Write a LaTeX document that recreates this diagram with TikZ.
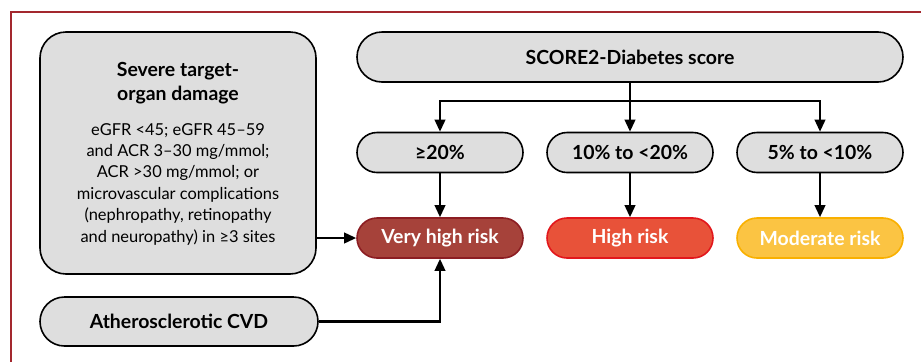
\documentclass[tikz,border=0pt]{standalone}
\usepackage{fontspec}
\setmainfont{Lato}
\usetikzlibrary{arrows.meta}
\definecolor{framecol}{HTML}{A3282E}
\definecolor{boxgray}{HTML}{DEDEDE}
\definecolor{vhfill}{HTML}{A6423A}
\definecolor{vhdraw}{HTML}{8C1D22}
\definecolor{hfill}{HTML}{E85239}
\definecolor{hdraw}{HTML}{E2171C}
\definecolor{mfill}{HTML}{FBC443}
\definecolor{mdraw}{HTML}{F9B000}
\tikzset{
  graybox/.style={draw=black, line width=1.6bp, fill=boxgray, inner sep=0pt, align=center,
    font=\bfseries\fontsize{19.5}{23}\selectfont},
  riskbox/.style={line width=1.6bp, inner sep=0pt, text=white, align=center,
    minimum width=166bp, minimum height=40bp, rounded corners=20bp,
    font=\bfseries\fontsize{19.5}{23}\selectfont},
  conn/.style={line width=2.2bp, black},
  arr/.style={conn, -{Triangle[length=12bp,width=10.5bp]}},
}
\begin{document}
\begin{tikzpicture}[x=1bp,y=-1bp]
\useasboundingbox (0,0) rectangle (921,362);
\draw[framecol, line width=2bp] (11,362) -- (11,12) -- (921,12);

\node[graybox, minimum width=276bp, minimum height=242bp, rounded corners=26bp] (sev) at (178,153) {};
\node[align=center, inner sep=0pt, font=\bfseries\fontsize{19.5}{24}\selectfont] (sevtitle) at (178,83) {Severe target-\\organ damage};
\node[align=center, inner sep=0pt, font=\fontsize{16.5}{21.5}\selectfont] (sevbody) at (178,184) {eGFR <45; eGFR 45–59\\and ACR 3–30 mg/mmol;\\ACR >30 mg/mmol; or\\microvascular complications\\(nephropathy, retinopathy\\and neuropathy) in ≥3 sites};
\node[graybox, minimum width=278bp, minimum height=49bp, rounded corners=24.5bp] (cvd) at (179,321.5) {Atherosclerotic CVD};

\node[graybox, minimum width=546bp, minimum height=50bp, rounded corners=25bp] (score) at (630,57) {SCORE2-Diabetes score};
\node[graybox, minimum width=166bp, minimum height=40bp, rounded corners=20bp] (p20) at (440,152.5) {≥20\%};
\node[graybox, minimum width=166bp, minimum height=40bp, rounded corners=20bp] (p10) at (630,152.5) {10\% to <20\%};
\node[graybox, minimum width=166bp, minimum height=40bp, rounded corners=20bp] (p5) at (820,152.5) {5\% to <10\%};

\node[riskbox, draw=vhdraw, fill=vhfill] (vh) at (440,238) {Very high risk};
\node[riskbox, draw=hdraw, fill=hfill] (hr) at (630,238) {High risk};
\node[riskbox, draw=mdraw, fill=mfill] (mr) at (820,238) {Moderate risk};

\coordinate (bus) at (630,101);
\draw[conn] (score.south) -- (bus);
\draw[arr] (bus) -| (p20.north);
\draw[arr] (bus) -| (p5.north);
\draw[arr] (bus) -- (p10.north);
\draw[arr] (p20) -- (vh);
\draw[arr] (p10) -- (hr);
\draw[arr] (p5) -- (mr);
\draw[arr] (sev.east |- vh.west) -- (vh.west);
\draw[arr] (cvd.east) -| (vh.south);
\end{tikzpicture}
\end{document}
